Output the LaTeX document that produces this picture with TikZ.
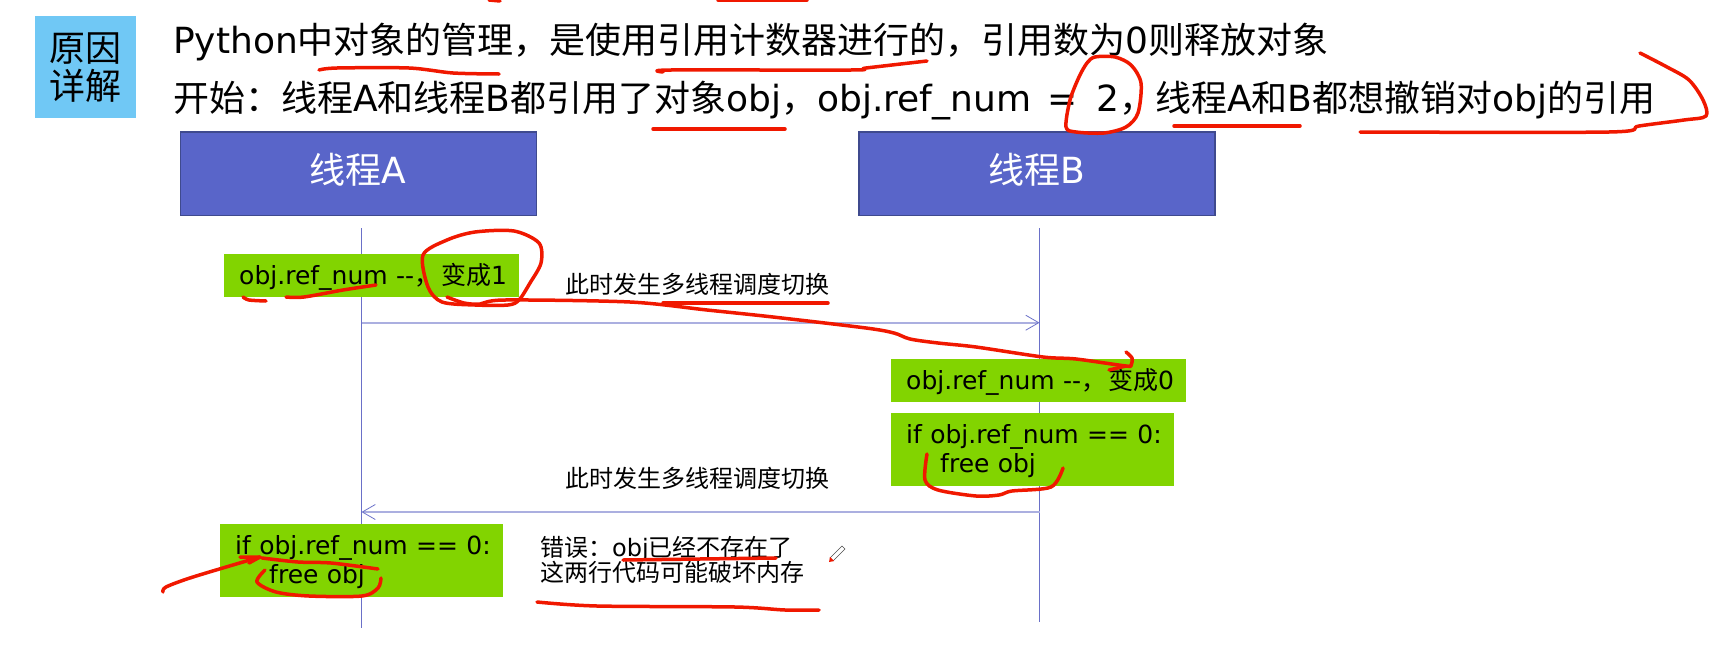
\documentclass[tikz,border=0pt]{standalone}
\usepackage{fontspec}
\usepackage{xcolor}
\setmainfont{DejaVu Sans}
\newfontfamily\zhfont{Noto Sans CJK SC}
\newcommand{\zh}[1]{{\zhfont #1}}
\usetikzlibrary{arrows.meta, positioning}
\definecolor{tagblue}{HTML}{70C8F5}
\definecolor{threadfill}{HTML}{5965C9}
\definecolor{threadedge}{HTML}{3F4A8E}
\definecolor{codegreen}{HTML}{82D400}
\definecolor{lifecolor}{HTML}{6A70C8}
\definecolor{msgcolor}{HTML}{ABAFE0}
\definecolor{inkred}{HTML}{F01800}
\tikzset{
    tagbox/.style={fill=tagblue, anchor=north west, minimum width=101pt, minimum height=102pt, text width=101pt, inner sep=0pt, align=center, font=\fontsize{36}{42}\selectfont},
    headline/.style={anchor=base west, inner sep=0pt, font=\fontsize{36}{42}\selectfont},
    threadbox/.style={fill=threadfill, draw=threadedge, line width=1.5pt, text=white, anchor=north west, minimum width=356pt, minimum height=83.5pt, inner sep=0pt, text height=26pt, text depth=6pt, font=\fontsize{36}{40}\selectfont},
    codebox/.style={fill=codegreen, anchor=north west, inner sep=0pt, align=left, font=\fontsize{25}{29.5}\selectfont},
    note/.style={anchor=base west, inner sep=0pt, align=left, font=\fontsize{24}{29}\selectfont},
    lifeline/.style={draw=lifecolor, line width=0.8pt},
    message/.style={draw=msgcolor, line width=1.6pt, -{Straight Barb[length=13pt,width=15pt,line width=0.8pt,color=lifecolor]}},
    redink/.style={draw=inkred, line width=3.5pt, line cap=round, line join=round}
}
\begin{document}
\begin{tikzpicture}[x=1pt,y=-1pt]
    \useasboundingbox (0,0) rectangle (1731,656);

    \node[tagbox] (tag) at (35,16) {\vspace*{-4pt}\zh{原因}\\\zh{详解}};
    \node[headline] (line1) at (173,53) {Python\zh{中对象的管理，是使用引用计数器进行的，引用数为}0\zh{则释放对象}};
    \node[headline] (line2) at (173,111) {\zh{开始：线程}A\zh{和线程}B\zh{都引用了对象}obj\zh{，}obj.ref\_num\kern5pt{} =\kern7pt{} 2\zh{，}\zh{线程}A\zh{和}B\zh{都想撤销对}obj\zh{的引用}};

    \node[threadbox] (threadA) at (179.5,131) {\zh{线程}A};
    \node[threadbox] (threadB) at (858,131) {\zh{线程}B};

    \coordinate (lifeAtop) at (361.5,228);
    \coordinate (lifeAend) at (361.5,628);
    \coordinate (lifeBtop) at (1039.5,228);
    \coordinate (lifeBend) at (1039.5,622);
    \draw[lifeline] (lifeAtop) -- (lifeAend);
    \draw[lifeline] (lifeBtop) -- (lifeBend);

    \node[codebox, minimum width=295pt, minimum height=43pt, text width=295pt, text height=30pt, text depth=13pt] (decA) at (224,254) {\hspace*{15pt}obj.ref\_num -{}-\zh{，}\kern2pt\zh{变成}1};
    \node[codebox, minimum width=295pt, minimum height=43pt, text width=295pt, text height=30pt, text depth=13pt] (decB) at (891,359) {\hspace*{15pt}obj.ref\_num -{}-\zh{，}\kern2pt\zh{变成}0};
    \node[codebox, minimum width=283pt, minimum height=73pt, text width=283pt, text height=30pt, text depth=43pt] (freeB) at (891,413) {\hspace*{15pt}if obj.ref\_num == 0:\\\hspace*{49pt}free obj};
    \node[codebox, minimum width=283pt, minimum height=73pt, text width=283pt, text height=30pt, text depth=43pt] (freeA) at (220,524) {\hspace*{15pt}if obj.ref\_num == 0:\\\hspace*{49pt}free obj};

    \coordinate (msgAout) at (361.5,322.7);
    \coordinate (msgBin) at (1039.5,322.7);
    \coordinate (msgBout) at (1039.5,512);
    \coordinate (msgAin) at (361.5,512);
    \draw[message] (msgAout) -- (msgBin);
    \draw[message] (msgBout) -- (msgAin);

    \node[note] (switch1) at (565,293) {\zh{此时发生多线程调度切换}};
    \node[note] (switch2) at (565,487) {\zh{此时发生多线程调度切换}};
    \node[note] (error1) at (540,556) {\zh{错误：}obj\zh{已经不存在了}};
    \node[note] (error2) at (540,581) {\zh{这两行代码可能破坏内存}};

    % pen marks
    \draw[redink] plot[smooth] coordinates {(319,70) (337,68) (409,68) (453,73) (499,74)};
    \draw[redink] plot[smooth] coordinates {(663,72) (671,70) (851,70) (866,68) (927,61)};
    \draw[redink] (653,129) -- (785,129);
    \draw[redink] plot[smooth cycle] coordinates {(1095,57) (1115,57) (1131,65) (1141,83) (1138,113) (1126,127) (1104,133) (1076,132) (1066,127) (1070,100) (1079,77) (1087,63)};
    \draw[redink] (1174,126) -- (1300,126);
    \draw[redink] plot[smooth] coordinates {(1360,132) (1609,132) (1639,126) (1684,120) (1706,116) (1703,100) (1689,80) (1667,67) (1640,53)};
    \draw[redink] plot[smooth] coordinates {(243,297) (249,300) (266,301)};
    \draw[redink] plot[smooth] coordinates {(286,297) (304,297) (343,290) (376,285)};
    \draw[redink] plot[smooth cycle] coordinates {(423,255) (447,240) (475,232) (514,231) (539,243) (541,263) (530,283) (519,300) (508,305) (475,305) (442,302) (428,287)};
    \draw[redink] plot[smooth] coordinates {(447,297) (464,303) (480,304) (505,300) (630,302) (707,310) (773,317) (866,328) (894,333) (910,339) (938,343) (976,347) (1043,357) (1076,359) (1126,366) (1131,365) (1132,358) (1126,352)};
    \draw[redink] (1126,366) -- (1109,370);
    \draw[redink] (663,303) -- (828,303);
    \draw[redink] plot[smooth] coordinates {(927,454) (925,480) (938,490) (976,496) (999,495) (1012,491) (1051,487) (1063,468)};
    \draw[redink] plot[smooth] coordinates {(163,592) (166,587) (193,577) (260,557)};
    \draw[redink] (240,557) -- (260,557) -- (249,563);
    \draw[redink] plot[smooth] coordinates {(262,558) (298,562) (331,563) (378,569)};
    \draw[redink] plot[smooth] coordinates {(265,570) (257,582) (276,592) (309,596) (362,596) (378,588) (381,578)};
    \draw[redink] (623,560) -- (776,558);
    \draw[redink] plot[smooth] coordinates {(537,602) (597,606) (735,607) (785,610) (819,610)};
    \draw[redink] (489,0) -- (500,1);
    \draw[redink] (718,0) -- (807,0);

    % pen cursor
    \draw[black!70, line width=0.5pt] (830,558) -- (842,546) -- (845,549) -- (833,561) -- cycle;
    \fill[inkred] (829,562) -- (830,557) -- (834,561) -- cycle;
\end{tikzpicture}
\end{document}
